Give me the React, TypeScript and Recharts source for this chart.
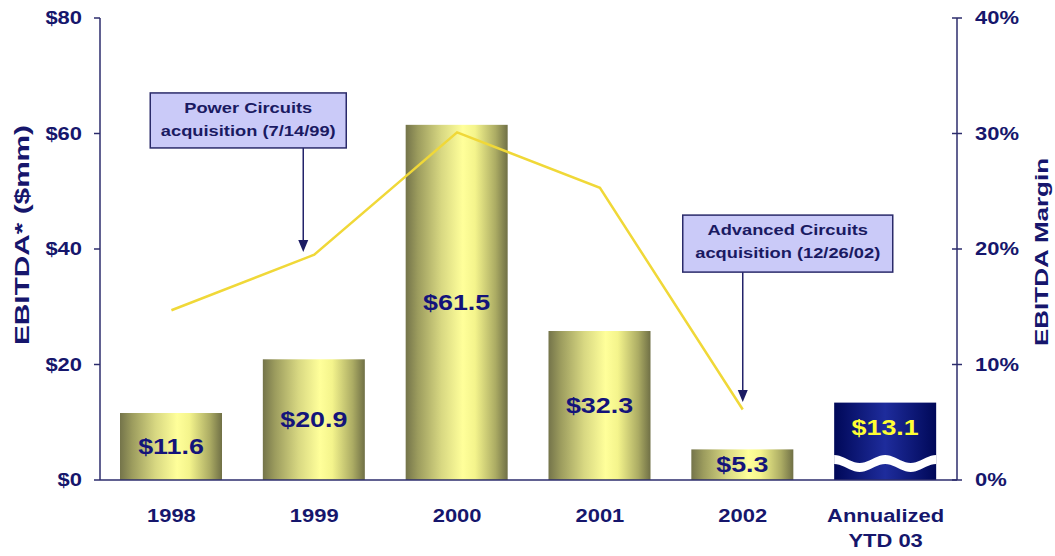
import React from "react";
import {
  ComposedChart,
  Bar,
  Line,
  XAxis,
  YAxis,
  LabelList,
  ReferenceLine,
} from "recharts";

// ---- data ----
const categories = ["1998", "1999", "2000", "2001", "2002", "Annualized\nYTD 03"];
const ebitda = [11.6, 20.9, 61.5, 25.8, 5.3, 13.4];
const ebitdaLabels = ["$11.6", "$20.9", "$61.5", "$32.3", "$5.3", "$13.1"];
const marginPct = [14.7, 19.5, 30.1, 25.3, 6.1, null];
const leftTicks = [0, 20, 40, 60, 80];
const rightTicks = [0, 10, 20, 30, 40];

// acquisition callouts: category, arrow start / end (in $mm), text
const noteCats = ["1999", "2002"];
const noteFrom = [57.5, 36.0];
const noteTo = [39.5, 13.5];
const noteText = [
  ["Power Circuits", "acquisition (7/14/99)"],
  ["Advanced Circuits", "acquisition (12/26/02)"],
];

const data = categories.map((c, i) => ({
  cat: c,
  ebitda: ebitda[i],
  margin: marginPct[i],
}));

const NAVY = "#16166c";
const AXIS = "#2c2c6c";
const FONT = "'Liberation Sans', Arial, sans-serif";
const STRETCH = 1.22;

// slide text is rendered wide, so stretch Arial horizontally
function SText({ x, y, size = 18, fill = NAVY, anchor = "middle", children }: any) {
  return (
    <text
      transform={`translate(${x},${y}) scale(${STRETCH},1)`}
      textAnchor={anchor}
      dominantBaseline="central"
      fontSize={size}
      fontWeight="bold"
      fontFamily={FONT}
      fill={fill}
    >
      {children}
    </text>
  );
}

function LeftTick({ x, y, payload }: any) {
  return (
    <SText x={x} y={y} anchor="end">
      {"$" + payload.value}
    </SText>
  );
}

function RightTick({ x, y, payload }: any) {
  return (
    <g>
      <line x1={x - 23} x2={x - 13} y1={y} y2={y} stroke={AXIS} strokeWidth={1.5} />
      <SText x={x} y={y} anchor="start">
        {payload.value + "%"}
      </SText>
    </g>
  );
}

function XTick({ x, y, payload }: any) {
  const lines = String(payload.value).split("\n");
  return (
    <g>
      {lines.map((l, i) => (
        <SText key={i} x={x} y={y + 30 + i * 25}>
          {l}
        </SText>
      ))}
    </g>
  );
}

function AxisTitle({ viewBox, text, cx, dy, length, size }: any) {
  const cy = viewBox.y + viewBox.height / 2 + dy;
  return (
    <text
      transform={`translate(${cx},${cy}) rotate(-90)`}
      textAnchor="middle"
      dominantBaseline="central"
      fontSize={size}
      fontWeight="bold"
      fontFamily={FONT}
      fill={NAVY}
      textLength={length}
      lengthAdjust="spacingAndGlyphs"
    >
      {text}
    </text>
  );
}

function BarShape(props: any) {
  const { x, y, width, height, index } = props;
  if (index !== categories.length - 1) {
    return <rect x={x} y={y} width={width} height={height} fill="url(#olive)" />;
  }
  // annualized bar: navy block with a white "break" wave near the base
  const bottom = y + height;
  const c = bottom - 21;
  const pts: string[] = [];
  const pts2: string[] = [];
  for (let i = 0; i <= 40; i++) {
    const px = x + (width * i) / 40;
    const py = c - 4 * Math.cos(Math.PI * 4 * (i / 40));
    pts.push(`${px},${py}`);
    pts2.unshift(`${px},${py + 9}`);
  }
  return (
    <g>
      <rect x={x} y={y} width={width} height={height} fill="url(#navy)" />
      <polygon points={[...pts, ...pts2].join(" ")} fill="#ffffff" />
    </g>
  );
}

function BarLabel(props: any) {
  const { x, y, width, height, index } = props;
  const last = index === categories.length - 1;
  const cy = last ? y + 25 : y + height / 2;
  return (
    <SText x={x + width / 2} y={cy} size={22} fill={last ? "#ffff33" : "#14147a"}>
      {ebitdaLabels[index]}
    </SText>
  );
}

// box placement relative to the arrow start (pixels)
const boxLayout = [
  { dx: -11, left: -153, width: 196, height: 55 },
  { dx: 0, left: -60, width: 210, height: 57 },
];

function Callout(props: any) {
  const { x1, y1, y2, n } = props;
  const b = boxLayout[n];
  const ax = x1 + b.dx;
  const top = y1 - b.height;
  return (
    <g>
      <line x1={ax} x2={ax} y1={y1} y2={y2 - 11} stroke="#23236a" strokeWidth={1.5} />
      <polygon
        points={`${ax - 5},${y2 - 12} ${ax + 5},${y2 - 12} ${ax},${y2}`}
        fill="#1c1c64"
      />
      <rect
        x={ax + b.left}
        y={top}
        width={b.width}
        height={b.height}
        fill="#cacaf8"
        stroke="#2a2a6a"
        strokeWidth={1.5}
      />
      {noteText[n].map((t, i) => (
        <SText key={i} x={ax + b.left + b.width / 2} y={top + 15 + i * 23} size={15} fill="#1a1a62">
          {t}
        </SText>
      ))}
    </g>
  );
}

export default function App() {
  return (
    <div style={{ position: "absolute", left: 0, top: 0, background: "#fff" }}>
      <ComposedChart
        width={1055}
        height={556}
        data={data}
        margin={{ top: 18, right: 0, bottom: 0, left: 0 }}
      >
        <defs>
          <linearGradient id="olive" x1="0" y1="0" x2="1" y2="0">
            <stop offset="0" stopColor="#74744a" />
            <stop offset="0.12" stopColor="#9c9c5e" />
            <stop offset="0.35" stopColor="#d8d882" />
            <stop offset="0.56" stopColor="#ffff9a" />
            <stop offset="0.68" stopColor="#f4f48c" />
            <stop offset="0.88" stopColor="#acac64" />
            <stop offset="1" stopColor="#707046" />
          </linearGradient>
          <linearGradient id="navy" x1="0" y1="0" x2="1" y2="0">
            <stop offset="0" stopColor="#000858" />
            <stop offset="0.5" stopColor="#1e2c9c" />
            <stop offset="1" stopColor="#000858" />
          </linearGradient>
        </defs>
        <XAxis
          dataKey="cat"
          height={76}
          interval={0}
          tickLine={false}
          tickSize={6}
          tickMargin={0}
          axisLine={{ stroke: AXIS, strokeWidth: 1.5 }}
          tick={<XTick />}
        />
        <YAxis
          yAxisId="left"
          width={100}
          domain={[0, 80]}
          ticks={leftTicks}
          tickSize={6}
          tickMargin={12}
          axisLine={{ stroke: AXIS, strokeWidth: 1.5 }}
          tickLine={{ stroke: AXIS, strokeWidth: 1.5 }}
          tick={<LeftTick />}
          label={<AxisTitle text="EBITDA* ($mm)" cx={22} dy={-14} length={220} size={20} />}
        />
        <YAxis
          yAxisId="right"
          orientation="right"
          width={98}
          domain={[0, 40]}
          ticks={rightTicks}
          tickSize={6}
          tickMargin={12}
          axisLine={{ stroke: AXIS, strokeWidth: 1.5 }}
          tickLine={false}
          tick={<RightTick />}
          label={<AxisTitle text="EBITDA Margin" cx={1042} dy={3} length={188} size={18} />}
        />
        <Bar
          yAxisId="left"
          dataKey="ebitda"
          barSize={102}
          shape={<BarShape />}
          isAnimationActive={false}
        >
          <LabelList dataKey="ebitda" content={<BarLabel />} />
        </Bar>
        <Line
          yAxisId="right"
          type="linear"
          dataKey="margin"
          stroke="#f0d838"
          strokeWidth={2.5}
          dot={false}
          activeDot={false}
          connectNulls={false}
          isAnimationActive={false}
        />
        {noteCats.map((c, n) => (
          <ReferenceLine
            key={c}
            yAxisId="left"
            segment={[
              { x: c, y: noteFrom[n] },
              { x: c, y: noteTo[n] },
            ]}
            shape={(p: any) => <Callout {...p} n={n} />}
          />
        ))}
      </ComposedChart>
    </div>
  );
}
